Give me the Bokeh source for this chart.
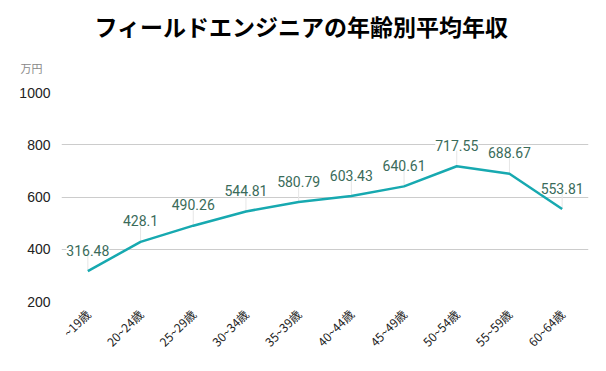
from bokeh.plotting import figure
from bokeh.models import ColumnDataSource, LabelSet, Title, FixedTicker
from bokeh.core.properties import value
from bokeh.embed import file_html
from bokeh.resources import INLINE

categories = ["~19歳", "20~24歳", "25~29歳", "30~34歳", "35~39歳",
              "40~44歳", "45~49歳", "50~54歳", "55~59歳", "60~64歳"]
salaries = [316.48, 428.1, 490.26, 544.81, 580.79, 603.43, 640.61, 717.55, 688.67, 553.81]
label_texts = ["316.48", "428.1", "490.26", "544.81", "580.79",
               "603.43", "640.61", "717.55", "688.67", "553.81"]
y_ticks = [200, 400, 600, 800, 1000]
title_text = "フィールドエンジニアの年齢別平均年収"
unit_text = "万円"

src = ColumnDataSource(dict(cat=categories, val=salaries, txt=label_texts,
                            top=[v + 80 for v in salaries]))

p = figure(x_range=categories, y_range=(200, 1000), width=598, height=363,
           output_backend="svg", toolbar_location=None,
           min_border_left=61, min_border_right=10, min_border_top=92, min_border_bottom=62)
p.outline_line_color = None

# closest to the frame first, outer title afterwards
p.add_layout(Title(text=unit_text, align="left", offset=-41, standoff=34,
                   text_font="Noto Sans CJK JP", text_font_size="11px",
                   text_font_style="normal", text_color="#888888"), "above")
p.add_layout(Title(text=title_text, align="left", offset=33, standoff=-4,
                   text_font="Noto Sans CJK JP", text_font_size="23px",
                   text_font_style="bold", text_color="#000000"), "above")

p.segment(x0="cat", y0="val", x1="cat", y1="top", source=src, line_color="#e6e6e6", line_width=1)
p.line(x="cat", y="val", source=src, line_color="#17a9b0", line_width=2.5)

labels = LabelSet(x="cat", y="val", text="txt", source=src, y_offset=21,
                  text_align="center", text_baseline="middle",
                  text_font=value("Roboto"), text_font_size="14px", text_color="#3a6b5a",
                  background_fill_color="white")
p.add_layout(labels)

p.yaxis.ticker = FixedTicker(ticks=y_ticks)
p.yaxis.axis_line_color = None
p.yaxis.major_tick_line_color = None
p.yaxis.minor_tick_line_color = None
p.yaxis.major_label_text_font = "Liberation Sans"
p.yaxis.major_label_text_font_size = "14px"
p.yaxis.major_label_text_color = "#222222"
p.yaxis.major_label_standoff = 5

p.xaxis.axis_line_color = None
p.xaxis.major_tick_line_color = None
p.xaxis.major_label_orientation = 0.785
p.xaxis.major_label_text_font = "Noto Sans CJK JP"
p.xaxis.major_label_text_font_size = "12px"
p.xaxis.major_label_text_color = "#222222"
p.xaxis.major_label_standoff = 4

p.xgrid.grid_line_color = None
p.ygrid.grid_line_color = "#cccccc"
p.ygrid.grid_line_width = 1

open("out.html", "w").write(file_html(p, INLINE))
